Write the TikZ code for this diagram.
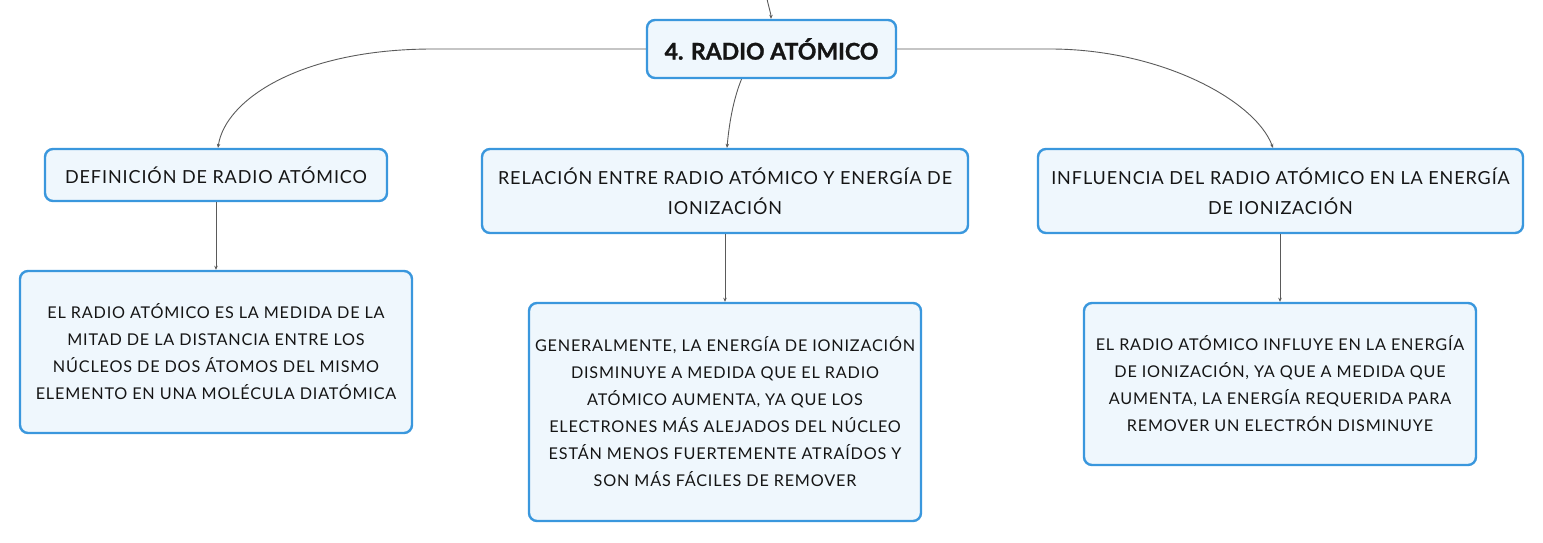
\documentclass[tikz,border=0pt]{standalone}
\usepackage{fontspec}
\setmainfont{Lato}[LetterSpace=5, BoldFeatures={FakeBold=1.2, LetterSpace=0}]
\usetikzlibrary{arrows.meta}
\definecolor{boxline}{HTML}{3A97DD}
\definecolor{boxfill}{HTML}{EFF7FD}
\definecolor{conn}{HTML}{5A5A5A}
\definecolor{ink}{HTML}{151515}
\begin{document}
\begin{tikzpicture}[x=1pt,y=-1pt,
  box/.style={draw=boxline, fill=boxfill, line width=2.4pt, rounded corners=8pt,
    align=center, text=ink, inner sep=0pt},
  headbox/.style={box, font=\fontsize{18}{30}\selectfont},
  bodybox/.style={box, minimum width=392pt, font=\fontsize{16.2}{27}\selectfont},
  conn/.style={draw=conn, line width=0.9pt, -{Stealth[length=4pt,width=3.5pt]}}
]
\useasboundingbox (0,0) rectangle (1543,543);
% nodes
\node[box, minimum width=249pt, minimum height=58pt, font=\fontsize{23}{27}\selectfont\bfseries] (title) at (771.5,49) {4. RADIO ATÓMICO};
\node[headbox, minimum width=342pt, minimum height=52pt] (def) at (216,175) {DEFINICIÓN DE RADIO ATÓMICO};
\node[headbox, minimum width=486pt, minimum height=84pt] (rel) at (725,191) {RELACIÓN ENTRE RADIO ATÓMICO Y ENERGÍA DE\\IONIZACIÓN};
\node[headbox, minimum width=485pt, minimum height=84pt] (inf) at (1280.5,191) {INFLUENCIA DEL RADIO ATÓMICO EN LA ENERGÍA\\DE IONIZACIÓN};
\node[bodybox, minimum height=162pt] (defc) at (216,352) {EL RADIO ATÓMICO ES LA MEDIDA DE LA\\MITAD DE LA DISTANCIA ENTRE LOS\\NÚCLEOS DE DOS ÁTOMOS DEL MISMO\\ELEMENTO EN UNA MOLÉCULA DIATÓMICA};
\node[bodybox, minimum height=218pt] (relc) at (725,412) {GENERALMENTE, LA ENERGÍA DE IONIZACIÓN\\DISMINUYE A MEDIDA QUE EL RADIO\\ATÓMICO AUMENTA, YA QUE LOS\\ELECTRONES MÁS ALEJADOS DEL NÚCLEO\\ESTÁN MENOS FUERTEMENTE ATRAÍDOS Y\\SON MÁS FÁCILES DE REMOVER};
\node[bodybox, minimum height=162pt] (infc) at (1280,384) {EL RADIO ATÓMICO INFLUYE EN LA ENERGÍA\\DE IONIZACIÓN, YA QUE A MEDIDA QUE\\AUMENTA, LA ENERGÍA REQUERIDA PARA\\REMOVER UN ELECTRÓN DISMINUYE};
% coordinates
\coordinate (top) at (767,-1);
% connectors
\draw[conn] (top) .. controls (769,8) and (771,14) .. ([xshift=-0.5pt]title.north);
\draw[conn] (title.west) -- (433,49) .. controls (300,49) and (225,100) .. ([xshift=2pt]def.north);
\draw[conn] ([xshift=-30pt]title.south) .. controls (733,100) and (729,125) .. ([xshift=2pt]rel.north);
\draw[conn] (title.east) -- (1050,49) .. controls (1160,49) and (1255,100) .. ([xshift=-7.5pt]inf.north);
\draw[conn] (def.south) -- (defc.north);
\draw[conn] (rel.south) -- (relc.north);
\draw[conn] (inf.south -| infc.north) -- (infc.north);
\end{tikzpicture}
\end{document}
